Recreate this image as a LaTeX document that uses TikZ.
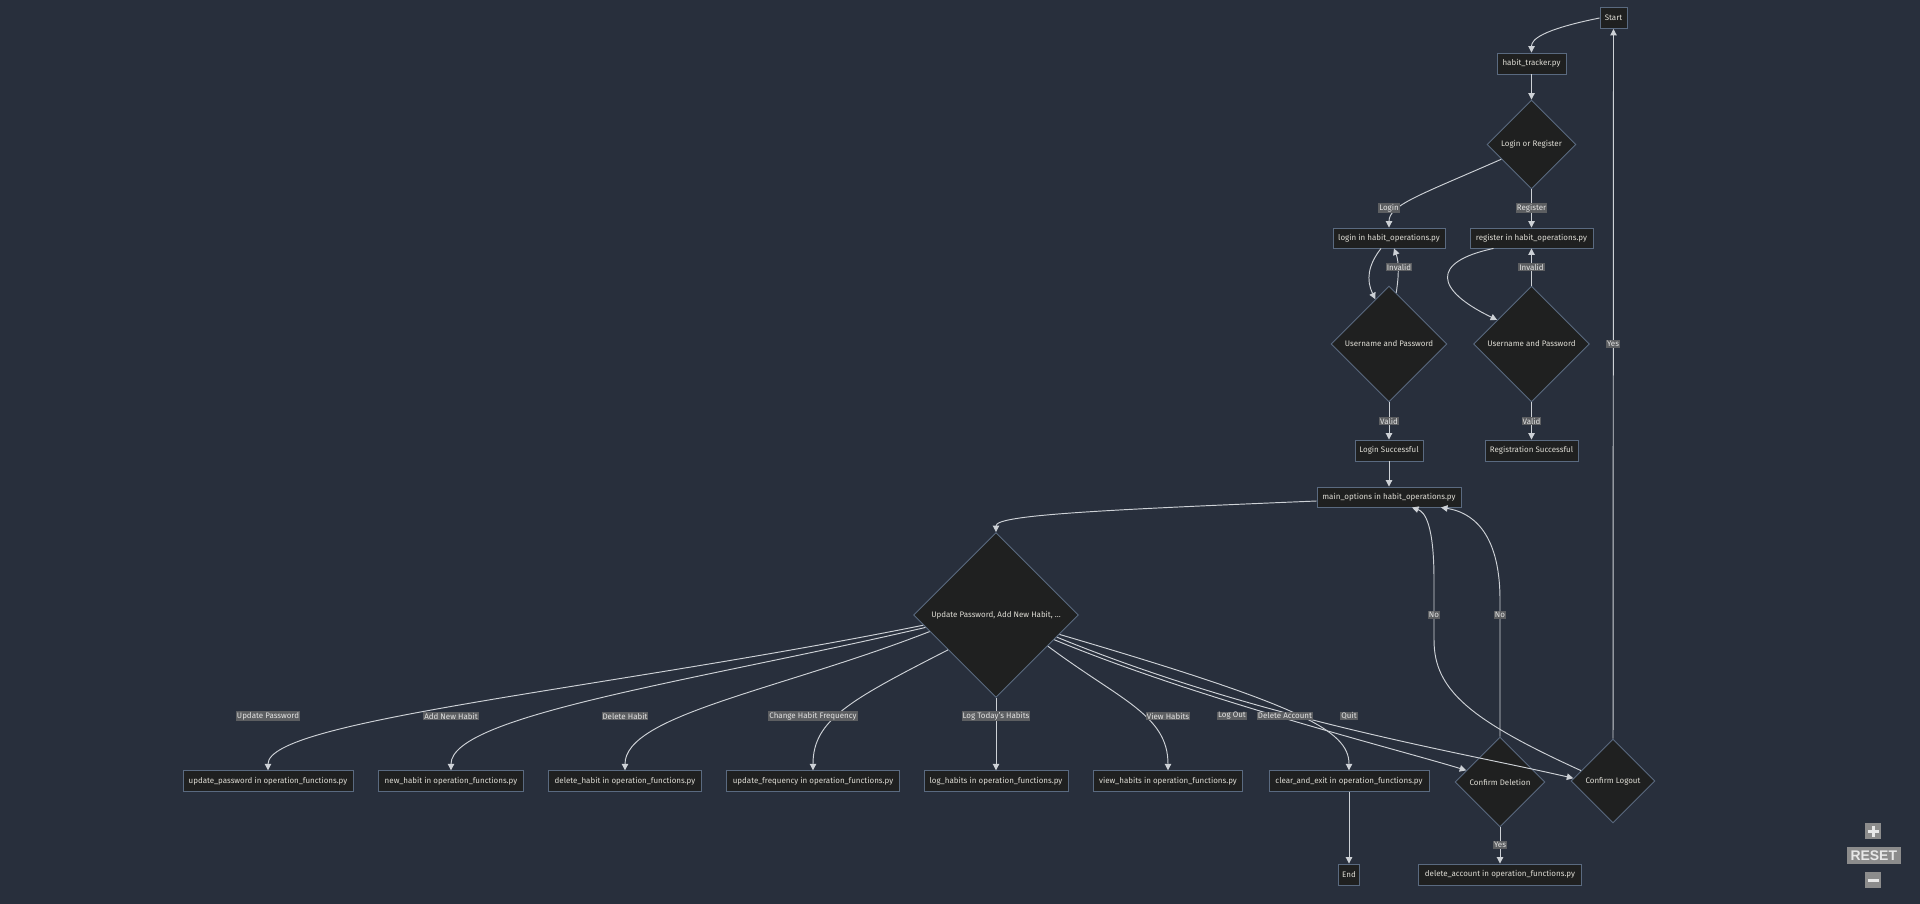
\documentclass[tikz,border=0pt]{standalone}
\usepackage{fontspec}
\setmainfont{Fira Sans}
\newfontfamily\btnfont{Liberation Sans}
\usetikzlibrary{arrows.meta,shapes.geometric}
\definecolor{bgc}{HTML}{282F3C}
\definecolor{nodefill}{HTML}{1F2020}
\definecolor{nodeborder}{HTML}{5A6A80}
\definecolor{nodetext}{HTML}{DEDCD4}
\definecolor{edgec}{HTML}{CDD1D6}
\definecolor{labelbg}{HTML}{5C5E61}
\definecolor{labeltext}{HTML}{E2E2E2}
\definecolor{btnfill}{HTML}{8C8C8C}
\definecolor{btntext}{HTML}{E8E8E8}
\newcommand\nodefont{\fontsize{8}{9}\selectfont}
\tikzset{
  box/.style={draw=nodeborder, fill=nodefill, text=nodetext, font=\nodefont,
    inner sep=0pt, minimum height=20.5bp, line width=0.9bp},
  decision/.style={diamond, draw=nodeborder, fill=nodefill, text=nodetext,
    font=\nodefont, inner sep=0pt, aspect=1, line width=0.9bp},
  elabel/.style={fill=labelbg, text=labeltext, font=\nodefont,
    inner xsep=1bp, inner ysep=0.8bp},
  flow/.style={draw=edgec, line width=0.95bp, -{Triangle[length=6.5bp,width=6.5bp]}},
  btn/.style={fill=btnfill, text=btntext, inner sep=0pt},
}
\begin{document}
\begin{tikzpicture}[x=1bp,y=-1bp]
\fill[bgc] (0,0) rectangle (1920,904);
\useasboundingbox (0,0) rectangle (1920,904);

% login / register part
\node[box, minimum width=27bp, minimum height=21bp] (start) at (1613.5,18) {Start};
\node[box, minimum width=69bp, minimum height=21bp] (tracker) at (1531.5,63.5) {habit\_tracker.py};
\node[decision, minimum width=89bp, minimum height=89bp] (lor) at (1531.5,144.5) {Login or Register};
\node[box, minimum width=112bp, minimum height=20bp] (login) at (1389,238) {login in habit\_operations.py};
\node[box, minimum width=123bp, minimum height=20bp] (register) at (1531.5,238) {register in habit\_operations.py};
\node[decision, minimum width=116bp, minimum height=116bp] (user1) at (1389,344) {Username and Password};
\node[decision, minimum width=116bp, minimum height=116bp] (user2) at (1531.5,344) {Username and Password};
\node[box, minimum width=68bp, minimum height=21bp] (loginok) at (1389,450.5) {Login Successful};
\node[box, minimum width=93bp, minimum height=21bp] (regok) at (1531.5,450.5) {Registration Successful};
\node[box, minimum width=144bp, minimum height=20bp] (mainopt) at (1389,497) {main\_options in habit\_operations.py};

% main menu
\node[decision, minimum width=165bp, minimum height=165bp] (big) at (996,615) {Update Password, Add New Habit, ...};
\node[box, minimum width=170bp] (updpw) at (268,781) {update\_password in operation\_functions.py};
\node[box, minimum width=145bp] (newh) at (451,781) {new\_habit in operation\_functions.py};
\node[box, minimum width=153bp] (delh) at (625,781) {delete\_habit in operation\_functions.py};
\node[box, minimum width=173bp] (updfq) at (813,781) {update\_frequency in operation\_functions.py};
\node[box, minimum width=144bp] (logh) at (996,781) {log\_habits in operation\_functions.py};
\node[box, minimum width=149bp] (viewh) at (1168,781) {view\_habits in operation\_functions.py};
\node[box, minimum width=160bp] (clear) at (1349,781) {clear\_and\_exit in operation\_functions.py};
\node[decision, minimum width=90bp, minimum height=90bp] (cdel) at (1500,782) {Confirm Deletion};
\node[decision, minimum width=84bp, minimum height=84bp] (clog) at (1613,781) {Confirm Logout};
\node[box, minimum width=21bp, minimum height=21bp] (endn) at (1349,874.5) {End};
\node[box, minimum width=163bp, minimum height=21bp] (delacc) at (1500,874.5) {delete\_account in operation\_functions.py};

% connectors
\draw[flow] (start.west) .. controls (1540,30) and (1531.5,40) .. (tracker.north);
\draw[flow] (tracker.south) -- (lor.north);
\draw[flow] (lor.206) .. controls (1420,195) and (1389,205) .. (login.north);
\draw[flow] (lor.south) -- (register.north);
\draw[flow] ([xshift=-8bp]login.south) .. controls (1368,265) and (1366,280) .. (user1.107);
\draw[flow] (user1.82) .. controls (1399,275) and (1399,262) .. ([xshift=5bp]login.south);
\draw[flow] ([xshift=-38bp]register.south) .. controls (1430,262) and (1435,290) .. (user2.145);
\draw[flow] (user2.north) -- (register.south);
\draw[flow] (user1.south) -- (loginok.north);
\draw[flow] (user2.south) -- (regok.north);
\draw[flow] (loginok.south) -- (mainopt.north);
\draw[flow] ([yshift=-4bp]mainopt.west) .. controls (1100,510) and (996,515) .. (big.north);
\draw[flow] (big.188) .. controls (600,690) and (268,720) .. (updpw.north);
\draw[flow] (big.190.5) .. controls (700,680) and (451,715) .. (newh.north);
\draw[flow] (big.194) .. controls (780,690) and (625,715) .. (delh.north);
\draw[flow] (big.216) .. controls (850,700) and (813,720) .. (updfq.north);
\draw[flow] (big.south) -- (logh.north);
\draw[flow] (big.329) .. controls (1120,700) and (1168,715) .. (viewh.north);
\draw[flow] (big.340) .. controls (1260,720) and (1460,752) .. (clog.176);
\draw[flow] (big.337) .. controls (1200,700) and (1400,750) .. (cdel.161);
\draw[flow] (big.343.5) .. controls (1300,705) and (1349,730) .. (clear.north);
\draw[flow] (clear.south) -- (endn.north);
\draw[flow] (cdel.south) -- (delacc.north);
\draw[flow] (cdel.north) -- (1500,600) .. controls (1500,530) and (1470,512) .. ([xshift=52bp]mainopt.south);
\draw[flow] (clog.162) .. controls (1470,720) and (1434,690) .. (1434,640) -- (1434,580)
  .. controls (1434,525) and (1425,512) .. ([xshift=23bp]mainopt.south);
\draw[flow] (clog.north) -- (start.south);

% connector labels
\node[elabel] (lLogin) at (1389,208) {Login};
\node[elabel] (lRegister) at (1531.5,208) {Register};
\node[elabel] (lInv1) at (1399,267) {Invalid};
\node[elabel] (lInv2) at (1531.5,267) {Invalid};
\node[elabel] (lVal1) at (1389,421) {Valid};
\node[elabel] (lVal2) at (1531.5,421) {Valid};
\node[elabel] (lYesOut) at (1613,344) {Yes};
\node[elabel] (lNo1) at (1434,615) {No};
\node[elabel] (lNo2) at (1500,615) {No};
\node[elabel] (lYesDel) at (1500,845) {Yes};
\node[elabel] (lUpd) at (268,716) {Update Password};
\node[elabel] (lAdd) at (451,716) {Add New Habit};
\node[elabel] (lDelH) at (625,716) {Delete Habit};
\node[elabel] (lFreq) at (813,716) {Change Habit Frequency};
\node[elabel] (lLog) at (996,716) {Log Today's Habits};
\node[elabel] (lView) at (1168,716) {View Habits};
\node[elabel] (lOut) at (1232,716) {Log Out};
\node[elabel] (lDelA) at (1285,716) {Delete Account};
\node[elabel] (lQuit) at (1349,716) {Quit};

% zoom controls
\node[btn, minimum width=16bp, minimum height=16bp] (zin) at (1873,831) {};
\draw[btntext, line width=3bp] ([xshift=-5.5bp]zin.center) -- ([xshift=5.5bp]zin.center)
  ([yshift=-5.5bp]zin.center) -- ([yshift=5.5bp]zin.center);
\node[btn, minimum width=54.5bp, minimum height=17bp, font=\btnfont\bfseries\fontsize{14}{14}\selectfont] (reset) at (1873.75,855.5) {RESET};
\node[btn, minimum width=16bp, minimum height=16bp] (zout) at (1873,880) {};
\draw[btntext, line width=3bp] ([xshift=-5.5bp]zout.center) -- ([xshift=5.5bp]zout.center);
\end{tikzpicture}
\end{document}
